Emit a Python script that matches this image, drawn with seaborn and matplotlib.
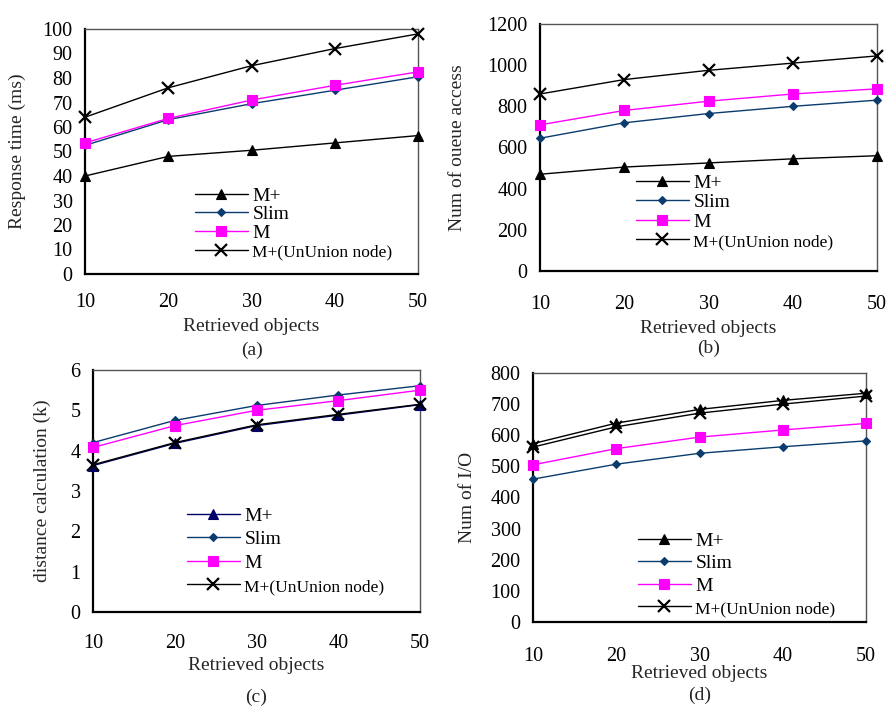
import numpy as np
import pandas as pd
import matplotlib
matplotlib.use("Agg")
import matplotlib.pyplot as plt
import seaborn as sns

sns.set_theme(style="white")
plt.rcParams['font.family'] = ['Liberation Serif', 'DejaVu Serif']
plt.rcParams['mathtext.fontset'] = 'stix'

x_vals = [10, 20, 30, 40, 50]
series_names = ["M+", "Slim", "M", "M+(UnUnion node)"]

# (a) Response time (ms)
a_mplus = [40, 48, 50.5, 53.5, 56.5]
a_slim = [52.5, 63, 69.5, 75, 80.5]
a_m = [53.5, 63.5, 71, 77, 82.5]
a_ununion = [64, 76, 85, 92, 98]

# (b) Num of queue access
b_mplus = [470, 505, 525, 545, 560]
b_slim = [645, 720, 765, 800, 830]
b_m = [710, 780, 825, 860, 885]
b_ununion = [860, 930, 975, 1010, 1045]

# (c) distance calculation (k)
c_mplus = [3.63, 4.18, 4.62, 4.88, 5.14]
c_slim = [4.2, 4.75, 5.12, 5.38, 5.61]
c_m = [4.08, 4.62, 5.0, 5.24, 5.5]
c_ununion = [3.65, 4.2, 4.64, 4.9, 5.15]

# (d) Num of I/O
d_mplus = [573, 639, 683, 712, 735]
d_slim = [459, 507, 542, 563, 582]
d_m = [505, 557, 594, 617, 638]
d_ununion = [562, 627, 671, 700, 726]

panels = [
    dict(data=[a_mplus, a_slim, a_m, a_ununion], ylabel="Response time (ms)",
         ylim=(0, 100), yticks=np.arange(0, 101, 10), caption="(a)",
         rect_px=(85, 29, 418, 274), xpad=14, mplus_color="black",
         leg_anchor=(195, 187), leg_sp=0.05, xlabel_y=326, cap_y=350, ylab_x=17),
    dict(data=[b_mplus, b_slim, b_m, b_ununion], ylabel="Num of oueue access",
         ylim=(0, 1200), yticks=np.arange(0, 1201, 200), caption="(b)",
         rect_px=(540, 24, 877, 271), xpad=17, mplus_color="black",
         leg_anchor=(636, 174), leg_sp=0.1, xlabel_y=328, cap_y=348, ylab_x=457),
    dict(data=[c_mplus, c_slim, c_m, c_ununion], ylabel="distance calculation (k)",
         ylim=(0, 6), yticks=np.arange(0, 7, 1), caption="(c)",
         rect_px=(93, 370, 420, 612), xpad=16, mplus_color="#000066",
         leg_anchor=(187, 507), leg_sp=0.3, xlabel_y=665, cap_y=697, ylab_x=42),
    dict(data=[d_mplus, d_slim, d_m, d_ununion], ylabel="Num of I/O",
         ylim=(0, 800), yticks=np.arange(0, 801, 100), caption="(d)",
         rect_px=(533, 373, 866, 622), xpad=18, mplus_color="black",
         leg_anchor=(638, 532), leg_sp=0.25, xlabel_y=673, cap_y=695, ylab_x=468),
]

W, H = 888, 710
fig = plt.figure(figsize=(W / 100, H / 100), dpi=100)
fig.patch.set_facecolor("white")

styles = {
    "M+": dict(marker="^", markersize=7, color="black"),
    "Slim": dict(marker="D", markersize=4.5, color="#0B3C6E"),
    "M": dict(marker="s", markersize=7, color="#FF00FF"),
    "M+(UnUnion node)": dict(marker="x", markersize=8, color="black", mew=1.6),
}

for p in panels:
    l, t, r, b = p["rect_px"]
    ax = fig.add_axes([l / W, 1 - b / H, (r - l) / W, (b - t) / H])
    for name, vals in zip(series_names, p["data"]):
        st = dict(styles[name])
        if name == "M+":
            st["color"] = p["mplus_color"]
        df = pd.DataFrame({"x": x_vals, "y": vals})
        sns.lineplot(data=df, x="x", y="y", ax=ax, label=name,
                     color=st["color"], marker=st["marker"],
                     markersize=st["markersize"], markeredgecolor=st["color"],
                     markerfacecolor=st["color"], markeredgewidth=st.get("mew", 0.8),
                     linewidth=1.0, clip_on=False, zorder=3)
    ax.set_xlim(10, 50)
    ax.set_ylim(*p["ylim"])
    ax.set_xticks(x_vals)
    ax.set_yticks(p["yticks"])
    ax.tick_params(axis="both", direction="in", length=4, width=1, labelsize=14.5,
                   colors="black")
    ax.tick_params(axis="x", pad=p["xpad"])
    ax.tick_params(axis="y", pad=9)
    for s in ax.spines.values():
        s.set_visible(True)
        s.set_color("#555555")
        s.set_linewidth(1.0)
    ax.spines["left"].set_color("black")
    ax.spines["bottom"].set_color("black")
    ax.spines["left"].set_linewidth(1.6)
    ax.spines["bottom"].set_linewidth(1.6)
    ax.set_xlabel("")
    ax.set_ylabel("")
    ax.grid(False)
    ax.set_facecolor("none")

    lx, ly = p["leg_anchor"]
    leg = ax.legend(loc="upper left", bbox_to_anchor=(lx / W, 1 - ly / H),
                    bbox_transform=fig.transFigure, frameon=False,
                    fontsize=14, handlelength=2.7, handletextpad=0.25,
                    labelspacing=p["leg_sp"], borderpad=0, borderaxespad=0)
    for txt in leg.get_texts():
        txt.set_color("black")
    leg.get_texts()[3].set_fontsize(12.5)

    cx = (l + r) / 2
    fig.text(cx / W, 1 - p["xlabel_y"] / H, "Retrieved objects", ha="center",
             va="center", fontsize=14)
    fig.text(cx / W, 1 - p["cap_y"] / H, p["caption"], ha="center", va="center",
             fontsize=14)
    fig.text(p["ylab_x"] / W, 1 - ((t + b) / 2) / H, p["ylabel"], ha="center",
             va="center", rotation=90, fontsize=14)

fig.savefig("out.png", dpi=100, facecolor="white")
